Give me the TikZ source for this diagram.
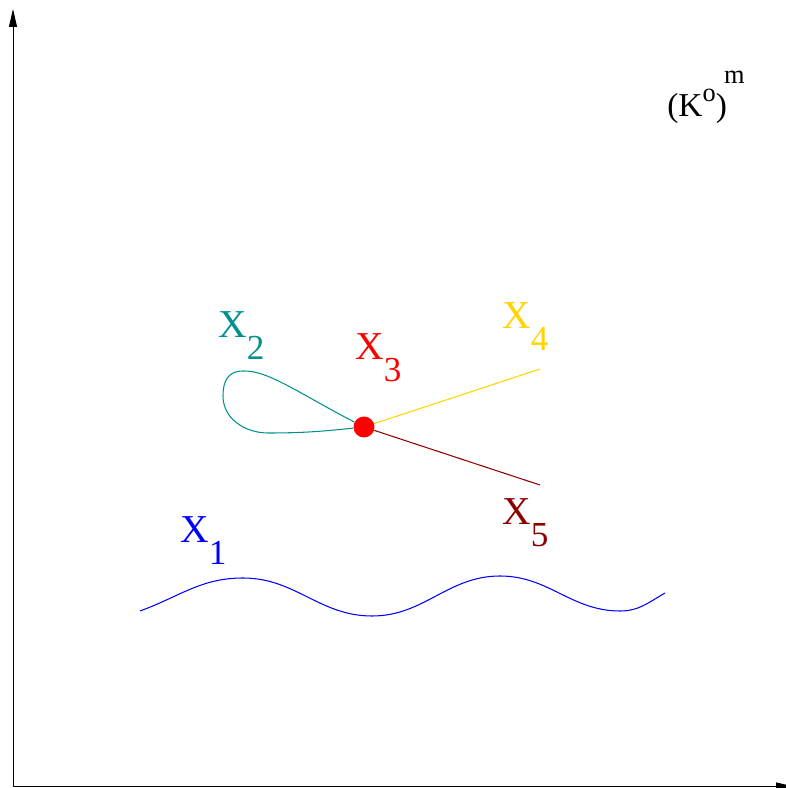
\documentclass[tikz,border=0pt]{standalone}
\usepackage{fontspec}
\setmainfont{Liberation Serif}
\usepackage{tikz}
\usetikzlibrary{arrows.meta}
\definecolor{xteal}{RGB}{0,145,140}
\definecolor{xgold}{RGB}{255,212,0}
\definecolor{xdark}{RGB}{140,0,0}
\newcommand{\xsub}[1]{X\raisebox{-12pt}{\fontsize{20}{20}\selectfont #1}}

\begin{document}
\begin{tikzpicture}[x=0.02cm, y=0.02cm,
    lab/.style={inner sep=0pt, anchor=base west, font=\fontsize{22.5}{22.5}\selectfont},
    curve/.style={line width=0.6pt},
    axis/.style={line width=0.5pt, -{Triangle[length=0.36cm, width=0.16cm]}}]
  \useasboundingbox (0,0) rectangle (785,788);
  % axes
  \coordinate (o) at (13,1.5);
  \coordinate (ytop) at (13,779);
  \coordinate (xend) at (794,1.5);
  \draw[axis] (o) -- (ytop);
  \draw[axis] (o) -- (xend);
  \node[lab, font=\fontsize{19}{19}\selectfont] (space) at (667,671)
        {(K\raisebox{9pt}{\fontsize{15}{15}\selectfont o})\kern-1.5pt\raisebox{19pt}{\fontsize{15}{15}\selectfont m}};

  % X1: the wave
  \draw[blue, curve] (140,177) to[out=20,in=180] (243,210) to[out=0,in=180] (372,172)
        to[out=0,in=180] (500,212) to[out=0,in=180] (620,177) to[out=0,in=210] (665,195);
  \node[lab, text=blue] (x1) at (180,245) {\xsub{1}};

  % the point X3 and the branches through it
  \node[circle, fill=red, inner sep=0pt, minimum size=0.42cm] (x3) at (364,361) {};
  \coordinate (x4end) at (540,419);
  \coordinate (x5end) at (540,303);
  \draw[xgold, curve] (x3) -- (x4end);
  \draw[xdark, curve] (x3) -- (x5end);
  \draw[xteal, curve] (x3) .. controls (300,394) and (268,418) .. (243,417)
        to[out=180,in=90,looseness=1.2] (223,392) to[out=-90,in=180] (268,355) to[out=0,in=186] (x3);

  \node[lab, text=xteal] (x2) at (218,450) {\xsub{2}};
  \node[lab, text=red] (x3lab) at (355,428) {\xsub{3}};
  \node[lab, text=xgold] (x4) at (502,459) {\xsub{4}};
  \node[lab, text=xdark] (x5) at (502,263) {\xsub{5}};
\end{tikzpicture}
\end{document}
